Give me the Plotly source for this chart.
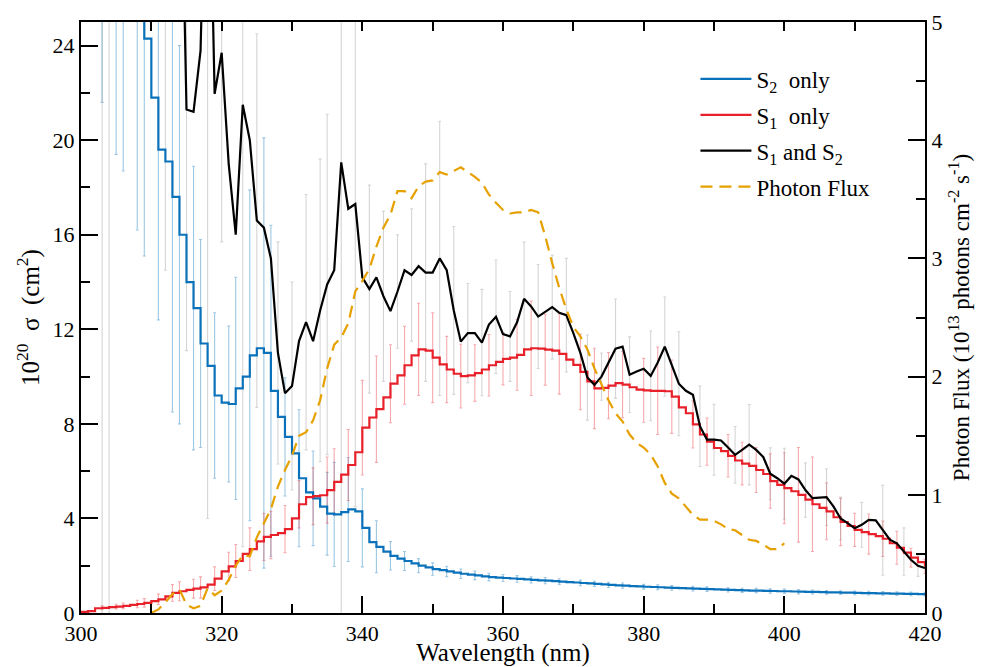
import plotly.graph_objects as go

# Wavelength grid (nm), 1 nm spacing
wavelength = list(range(300, 421))

# Cross sections (10^20 sigma, cm^2)
s2_only = [
    34, 33, 32, 31, 30, 29, 28, 27, 26, 24.3,
    21.8, 19.6, 19.1, 17.6, 16.0, 14.0, 12.9, 11.4, 10.45, 9.2,
    8.9, 8.84, 9.5, 10.0, 10.9, 11.2, 11.0, 9.4, 8.3, 7.45,
    6.75, 5.7, 5.1, 4.85, 4.5, 4.2, 4.17, 4.27, 4.38, 4.3,
    3.6, 3.0, 2.8, 2.6, 2.42, 2.3, 2.2, 2.1, 2.0, 1.93,
    1.86, 1.81, 1.76, 1.71, 1.66, 1.62, 1.59, 1.55, 1.52, 1.5,
    1.48, 1.46, 1.44, 1.42, 1.40, 1.38, 1.37, 1.35, 1.33, 1.31,
    1.29, 1.27, 1.25, 1.23, 1.21, 1.19, 1.17, 1.16, 1.14, 1.13,
    1.11, 1.10, 1.09, 1.07, 1.06, 1.05, 1.04, 1.03, 1.02, 1.01,
    1.00, 0.99, 0.98, 0.97, 0.96, 0.95, 0.95, 0.94, 0.93, 0.92,
    0.92, 0.91, 0.90, 0.89, 0.89, 0.88, 0.87, 0.87, 0.86, 0.86,
    0.85, 0.84, 0.84, 0.83, 0.83, 0.82, 0.82, 0.81, 0.81, 0.80,
    0.80,
]
s2_err = [
    8, 7, 6, 9.4, 4.5, 9.6, 9.3, 1.8, 9.8, 9.2,
    5, 7.2, 5, 9.1, 8, 4, 6, 4.4, 3.5, 3.5,
    3.5, 3.3, 4.7, 4, 7, 5, 9.1, 7, 5, 2.5,
    2.5, 2.9, 2.3, 2.0, 1.9, 1.75, 2.2, 2.0, 2.2, 1.9,
    1.65, 1.3, 1.1, 0.8, 0.6, 0.5, 0.4, 0.35, 0.3, 0.28,
    0.26, 0.24, 0.22, 0.21, 0.2, 0.19, 0.18, 0.17, 0.16, 0.15,
    0.15, 0.14, 0.14, 0.14, 0.13, 0.13, 0.13, 0.13, 0.12, 0.12,
    0.12, 0.12, 0.12, 0.11, 0.11, 0.11, 0.11, 0.11, 0.11, 0.1,
    0.1, 0.1, 0.1, 0.1, 0.1, 0.1, 0.1, 0.1, 0.1, 0.1,
    0.1, 0.09, 0.09, 0.09, 0.09, 0.09, 0.09, 0.09, 0.09, 0.09,
    0.09, 0.09, 0.09, 0.09, 0.08, 0.08, 0.08, 0.08, 0.08, 0.08,
    0.08, 0.08, 0.08, 0.08, 0.08, 0.08, 0.08, 0.08, 0.08, 0.08,
    0.08,
]

s1_only = [
    0.05, 0.08, 0.2, 0.22, 0.25, 0.27, 0.3, 0.34, 0.38, 0.43,
    0.5, 0.58, 0.7, 0.85, 0.92, 0.98, 1.03, 1.08, 1.2, 1.45,
    1.76, 1.97, 2.2, 2.5, 2.7, 3.03, 3.22, 3.3, 3.38, 3.55,
    4.0, 4.6, 4.9, 4.94, 4.98, 5.2, 5.55, 5.85, 6.26, 6.8,
    7.84, 8.27, 8.62, 9.12, 9.7, 10.05, 10.48, 10.9, 11.15, 11.1,
    10.8, 10.52, 10.3, 10.12, 10.02, 10.05, 10.15, 10.3, 10.48, 10.62,
    10.75, 10.8, 10.92, 11.15, 11.2, 11.18, 11.14, 11.1, 10.96, 10.72,
    10.5, 10.2, 9.8, 9.5, 9.52, 9.62, 9.72, 9.66, 9.55, 9.45,
    9.42, 9.4, 9.4, 9.38, 9.15, 8.7, 8.45, 7.98, 7.55, 7.25,
    6.98, 6.85, 6.65, 6.45, 6.32, 6.22, 6.05, 5.88, 5.58, 5.42,
    5.28, 5.15, 5.0, 4.8, 4.6, 4.45, 4.3, 4.05, 3.85, 3.68,
    3.52, 3.42, 3.34, 3.25, 3.14, 2.95, 2.76, 2.55, 2.34, 2.15,
    1.97,
]
s1_err = [
    0.05, 0.05, 0.06, 0.08, 0.1, 0.1, 0.12, 0.14, 0.16, 0.18,
    0.2, 0.22, 0.3, 0.35, 0.4, 0.35, 0.4, 0.45, 0.5, 0.5,
    0.55, 0.6, 0.7, 0.8, 0.9, 0.9, 1.0, 1.0, 1.0, 1.0,
    1.0, 1.0, 1.1, 1.2, 1.3, 1.4, 1.4, 1.5, 1.5, 1.8,
    2.0, 2.1, 2.25, 1.9, 1.65, 1.7, 1.65, 1.8, 1.95, 1.9,
    1.9, 1.6, 1.4, 1.4, 1.35, 1.3, 1.2, 1.25, 1.3, 1.2,
    1.1, 1.3, 1.5, 1.8, 2.0, 1.7, 1.5, 1.6, 1.7, 1.6,
    1.5, 1.6, 1.6, 1.7, 1.5, 1.4, 1.3, 1.4, 1.4, 1.4,
    1.35, 1.6, 1.85, 1.7, 1.55, 1.3, 1.1, 1.0, 1.0, 1.0,
    1.05, 0.95, 0.9, 0.9, 0.9, 0.95, 0.95, 1.0, 1.15, 1.3,
    1.5, 1.8, 2.0, 2.0, 2.0, 1.5, 1.2, 1.1, 1.0, 0.8,
    0.7, 0.75, 0.85, 0.8, 0.75, 0.7, 0.7, 0.6, 0.4, 0.35,
    0.3,
]

s1_and_s2 = [
    45, 44, 43, 42, 41, 40, 40, 39, 38, 37,
    37, 38, 38, 37, 36, 21.3, 21.2, 23.8, 36, 21.96,
    23.7, 19.0, 16.0, 21.5, 20.0, 16.6, 16.3, 15.0, 11.0, 9.3,
    9.6, 11.5, 12.3, 11.5, 12.8, 13.9, 14.5, 19.06, 17.1, 17.3,
    14.2, 13.7, 14.2, 13.4, 12.77, 13.6, 14.5, 14.3, 14.67, 14.4,
    14.4, 15.0, 14.5, 12.8, 11.48, 11.84, 11.84, 11.44, 12.2, 12.53,
    11.8, 11.7, 12.3, 13.29, 12.97, 12.54, 12.75, 12.94, 12.7, 12.6,
    11.84, 11.0, 9.96, 9.65, 10.0, 10.57, 11.18, 11.27, 10.08, 10.22,
    10.33, 10.03, 10.6, 11.27, 10.5, 9.7, 9.4, 9.23, 7.9, 7.33,
    7.33, 7.3, 7.0, 6.69, 6.9, 7.12, 6.9, 6.6, 5.89, 5.7,
    5.47, 5.8, 5.65, 5.2, 4.86, 4.88, 4.9, 4.5, 4.0, 3.8,
    3.59, 3.73, 3.94, 3.92, 3.5, 3.1, 2.95, 2.6, 2.25, 2.0,
    1.9,
]
s1_and_s2_err = [
    10, 10, 10, 42, 41, 10, 10, 10, 10, 10,
    10, 10, 23.5, 10, 10, 10.2, 5, 5, 32, 6,
    8, 6, 6, 18.7, 6, 7.9, 6, 6, 4.7, 4.5,
    4.4, 5, 5.4, 5.5, 6.4, 7.2, 8, 19.5, 7, 12.8,
    6, 4.4, 4.0, 3.6, 3.0, 2.4, 3.0, 2.8, 3.5, 4.6,
    3.5, 5.8, 3.0, 3.55, 2.0, 2.1, 2.0, 2.25, 2.0, 2.4,
    2.0, 1.9, 2.0, 2.4, 2.2, 2.2, 2.0, 2.2, 2.2, 2.4,
    2.0, 1.9, 1.8, 1.4, 1.0, 1.5, 2.1, 1.8, 1.6, 1.7,
    1.8, 1.9, 2.0, 2.1, 2.1, 2.2, 2.0, 1.8, 1.7, 1.6,
    1.5, 1.3, 1.2, 1.2, 1.4, 1.7, 1.4, 1.2, 1.1, 1.3,
    1.5, 1.3, 1.2, 1.15, 1.2, 1.2, 1.2, 1.0, 0.9, 0.9,
    0.95, 0.95, 1.2, 1.5, 1.9, 1.5, 1.2, 1.0, 0.7, 0.45,
    0.4,
]

# Wavelengths at which error bars are shown
single_bar_nm = [
    303, 305, 306, 308, 309, 311, 313, 314, 316, 317, 319, 321, 322, 324,
    326, 327, 329, 331, 333, 335, 336, 338, 340, 342, 344, 346, 348, 350,
    352, 354, 356, 358, 360, 362, 364, 366, 368, 371, 373, 375, 377, 380,
    382, 384, 387, 389, 392, 394, 396, 398, 400, 402, 404, 406, 408, 410,
    412, 414, 416, 418, 420,
]
combined_bar_nm = [
    303, 304, 307, 310, 312, 315, 318, 320, 323, 325, 328, 330, 332, 334,
    335, 337, 339, 341, 343, 345, 347, 349, 351, 353, 355, 357, 359, 361,
    363, 365, 367, 369, 372, 374, 376, 378, 381, 383, 385, 388, 390, 393,
    395, 398, 400, 403, 406, 408, 411, 414, 417, 419,
]

# Photon flux (10^13 photons cm^-2 s^-1), measured 310-400 nm
photon_flux = [None] * 10 + [
    0.0, 0.03, 0.09, 0.16, 0.2, 0.07, 0.04, 0.06, 0.21, 0.15,
    0.19, 0.28, 0.4, 0.49, 0.48, 0.64, 0.76, 0.88, 1.07, 1.21,
    1.33, 1.5, 1.53, 1.63, 1.8, 2.07, 2.27, 2.33, 2.45, 2.72,
    2.81, 2.91, 3.1, 3.26, 3.37, 3.57, 3.57, 3.51, 3.61, 3.65,
    3.66, 3.73, 3.71, 3.74, 3.77, 3.73, 3.69, 3.64, 3.54, 3.47,
    3.41, 3.38, 3.39, 3.39, 3.41, 3.39, 3.19, 2.96, 2.75, 2.57,
    2.42, 2.34, 2.23, 2.07, 1.93, 1.8, 1.69, 1.62, 1.51, 1.44,
    1.4, 1.34, 1.24, 1.1, 1.01, 0.97, 0.9, 0.83, 0.79, 0.79,
    0.78, 0.75, 0.71, 0.7, 0.66, 0.62, 0.61, 0.58, 0.54, 0.54,
    0.59,
] + [None] * 20

BLUE = "#0a72ba"
RED = "#e8202a"
BLACK = "#000000"
ORANGE = "#e6a000"
FONT = "Liberation Serif"

fig = go.Figure()


def bar_trace(values, errors, positions, colour):
    idx = [nm - wavelength[0] for nm in positions]
    return go.Scatter(
        x=positions, y=[values[i] for i in idx], mode="markers",
        marker=dict(size=1, color="rgba(0,0,0,0)"),
        error_y=dict(type="data", array=[errors[i] for i in idx],
                     visible=True, color=colour, thickness=1.1, width=1.5),
        showlegend=False, hoverinfo="skip",
    )


# error bars underneath the curves
fig.add_trace(bar_trace(s2_only, s2_err, single_bar_nm, "rgba(10,114,186,0.40)"))
fig.add_trace(bar_trace(s1_only, s1_err, single_bar_nm, "rgba(232,32,42,0.38)"))
fig.add_trace(bar_trace(s1_and_s2, s1_and_s2_err, combined_bar_nm, "rgba(150,150,150,0.40)"))

fig.add_trace(go.Scatter(
    x=wavelength, y=s2_only, mode="lines", name="S<sub>2</sub>  only",
    line=dict(color=BLUE, width=2.2, shape="hv"), legendgroup="a",
))
fig.add_trace(go.Scatter(
    x=wavelength, y=s1_only, mode="lines", name="S<sub>1</sub>  only",
    line=dict(color=RED, width=2.2, shape="hv"), legendgroup="b",
))
fig.add_trace(go.Scatter(
    x=wavelength, y=s1_and_s2, mode="lines",
    name="S<sub>1</sub> and S<sub>2</sub>",
    line=dict(color=BLACK, width=2.2), legendgroup="c",
))
fig.add_trace(go.Scatter(
    x=wavelength, y=photon_flux, mode="lines", name="Photon Flux",
    line=dict(color=ORANGE, width=2.2, dash="12px,7px"),
    xaxis="x2", yaxis="y2", legendgroup="d", connectgaps=False,
))

tickfont = dict(family=FONT, size=22, color="black")

fig.update_layout(
    width=984, height=667,
    margin=dict(l=81, r=59, t=22, b=54),
    paper_bgcolor="white", plot_bgcolor="white",
    font=dict(family=FONT, size=22, color="black"),
    showlegend=True,
    legend=dict(
        x=0.728, y=0.94, xanchor="left", yanchor="top",
        bgcolor="rgba(0,0,0,0)", font=dict(family=FONT, size=23),
        tracegroupgap=3, itemwidth=51,
    ),
    xaxis=dict(
        range=[300, 420], tick0=300, dtick=20, ticks="inside",
        ticklen=17, tickwidth=2, tickcolor="black",
        showline=True, linewidth=2, linecolor="black",
        showgrid=False, zeroline=False, tickfont=tickfont, automargin=False,
        minor=dict(dtick=10, ticks="inside", ticklen=9, tickwidth=2,
                   tickcolor="black", showgrid=False),
        title=dict(text="Wavelength (nm)", font=dict(family=FONT, size=25),
                   standoff=4),
    ),
    xaxis2=dict(
        range=[300, 420], overlaying="x", side="top", tick0=300, dtick=10,
        ticks="inside", ticklen=9, tickwidth=2, tickcolor="black",
        showticklabels=False, showline=True, linewidth=2, linecolor="black",
        showgrid=False, zeroline=False, automargin=False,
    ),
    yaxis=dict(
        range=[0, 25], tick0=0, dtick=4, ticks="inside",
        ticklen=17, tickwidth=2, tickcolor="black",
        showline=True, linewidth=2, linecolor="black",
        showgrid=False, zeroline=False, tickfont=tickfont, automargin=False,
        minor=dict(dtick=2, ticks="inside", ticklen=9, tickwidth=2,
                   tickcolor="black", showgrid=False),
        title=dict(text="10<sup>20</sup>\u00a0 σ \u00a0(cm<sup>2</sup>)",
                   font=dict(family=FONT, size=25), standoff=6),
    ),
    yaxis2=dict(
        range=[0, 5], overlaying="y", side="right", tick0=0, dtick=1,
        ticks="inside", ticklen=17, tickwidth=2, tickcolor="black",
        showline=True, linewidth=2, linecolor="black",
        showgrid=False, zeroline=False, tickfont=tickfont, automargin=False,
        minor=dict(dtick=0.5, ticks="inside", ticklen=9, tickwidth=2,
                   tickcolor="black", showgrid=False),
        title=dict(text="Photon Flux (10<sup>13</sup> photons cm<sup>-2</sup> s<sup>-1</sup>)",
                   font=dict(family=FONT, size=23), standoff=11),
    ),
)

fig.write_html("out.html")
